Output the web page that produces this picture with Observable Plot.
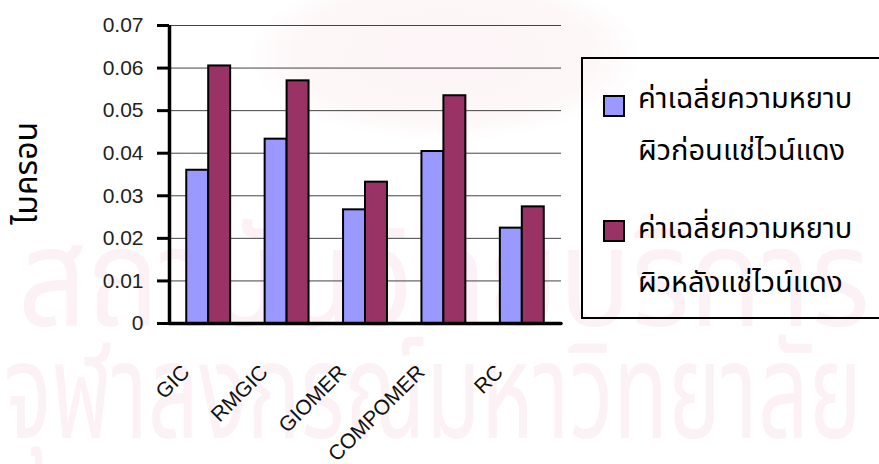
<!DOCTYPE html>
<html>
<head>
<meta charset="utf-8">
<script src="https://cdn.jsdelivr.net/npm/d3@7"></script>
<script src="https://cdn.jsdelivr.net/npm/@observablehq/plot@0.6"></script>
<style>
  html, body { margin: 0; padding: 0; background: #fff; overflow: hidden; }
  #wrap { position: relative; width: 879px; height: 464px; overflow: hidden; }
  .wm { position: absolute; white-space: nowrap; color: #fcf1f4; transform-origin: 0 0;
        font-family: "Noto Sans Thai", "Loma", "Garuda", "Noto Sans", sans-serif; line-height: 1; }
  #crest { position: absolute; left: 250px; top: -30px; width: 390px; height: 170px; border-radius: 50%;
           background: radial-gradient(ellipse at center, #fdf5f7 0%, #fdf7f8 55%, rgba(255,255,255,0) 72%); }
  #chart { position: absolute; left: 0; top: 0; }
  #legend { position: absolute; left: 581px; top: 57px; width: 320px; height: 258px;
            border: 2px solid #000; box-sizing: content-box;
            font-family: "Noto Sans Thai", "Loma", "Garuda", "Noto Sans", sans-serif; }
  .sw { position: absolute; left: 20px; width: 18px; height: 18px; border: 2px solid #000; }
  .lbl { position: absolute; left: 55px; font-size: 29px; line-height: 52px; white-space: nowrap; color: #000; }
</style>
</head>
<body>
<div id="wrap">
  <div id="crest"></div>
  <div class="wm" id="wm1">สถาบันวิทยบริการ</div>
  <div class="wm" id="wm2">จุฬาลงกรณ์มหาวิทยาลัย</div>
  <div id="chart"></div>
  <div id="legend"></div>
</div>
<script>
// Surface roughness (microns) of each restorative material, before and after red wine immersion
const categories = ["GIC", "RMGIC", "GIOMER", "COMPOMER", "RC"];
const beforeWine = [0.036, 0.0433, 0.0267, 0.0404, 0.0224];
const afterWine = [0.0605, 0.057, 0.0332, 0.0535, 0.0274];
const seriesNames = [
  ["ค่าเฉลี่ยความหยาบ", "ผิวก่อนแช่ไวน์แดง"],
  ["ค่าเฉลี่ยความหยาบ", "ผิวหลังแช่ไวน์แดง"]
];
const seriesColors = ["#9999ff", "#993366"];
const yTicks = [0, 0.01, 0.02, 0.03, 0.04, 0.05, 0.06, 0.07];
const yTitle = "ไมครอน";

// faint institutional watermark lines behind the chart: font size chosen so each line
// spans the given width, then stretched vertically
function placeWatermark(id, left, top, width, stretchY) {
  const el = document.getElementById(id);
  el.style.fontSize = "100px";
  const w = el.getBoundingClientRect().width;
  el.style.fontSize = (100 * width / w) + "px";
  el.style.left = left + "px";
  el.style.top = top + "px";
  el.style.transform = `scaleY(${stretchY})`;
}
placeWatermark("wm1", 18, 214, 852, 1.15);
placeWatermark("wm2", 4, 330, 858, 1.5);

const rows = categories.flatMap((cat, i) => [
  {cat, i, s: 0, value: beforeWine[i]},
  {cat, i, s: 1, value: afterWine[i]}
]);

// each category occupies one unit on x; the two bars fill the middle 56%
const gap = 0.22, barW = 0.28;
const labelFont = `"Liberation Sans", Arial, sans-serif`;

const chart = Plot.plot({
  width: 879,
  height: 464,
  marginLeft: 169,
  marginRight: 318,
  marginTop: 25,
  marginBottom: 141,
  style: {background: "transparent", fontFamily: labelFont, fontSize: "21px", color: "#000"},
  x: {domain: [0, categories.length], axis: null},
  y: {domain: [0, 0.07], axis: null},
  marks: [
    Plot.ruleY(yTicks.slice(1), {stroke: "#444", strokeWidth: 1}),
    Plot.rectY(rows, {
      x1: d => d.i + gap + d.s * barW,
      x2: d => d.i + gap + (d.s + 1) * barW,
      y: "value",
      fill: d => seriesColors[d.s],
      stroke: "#000",
      strokeWidth: 2
    }),
    Plot.axisY({
      ticks: yTicks,
      label: null,
      tickSize: 12,
      tickPadding: 14,
      strokeWidth: 3,
      tickFormat: d => d === 0 ? "0" : d.toFixed(2),
      fontSize: 21,
      fill: "#222"
    }),
    Plot.ruleX([0], {stroke: "#000", strokeWidth: 3.5}),
    Plot.ruleY([0], {stroke: "#000", strokeWidth: 3.5, strokeLinecap: "round"}),
    Plot.text(categories, {
      x: (d, i) => i + 0.5,
      frameAnchor: "bottom",
      text: d => d,
      rotate: -45,
      textAnchor: "end",
      dx: -18,
      dy: 50,
      fontSize: 21,
      fill: "#111"
    }),
    Plot.text([yTitle], {
      frameAnchor: "left",
      rotate: -90,
      dx: -143,
      dy: 50,
      fontSize: 32,
      fontFamily: `"Noto Sans Thai", "Loma", "Garuda", "Noto Sans", sans-serif`,
      fill: "#000"
    })
  ]
});
document.getElementById("chart").appendChild(chart);

// legend box on the right: one swatch per series, two lines of text each
const legend = document.getElementById("legend");
const swatchTops = [36, 161];
const lineTops = [[14, 66], [144, 198]];
seriesNames.forEach((lines, k) => {
  const sw = document.createElement("div");
  sw.className = "sw";
  sw.style.background = seriesColors[k];
  sw.style.top = swatchTops[k] + "px";
  legend.appendChild(sw);
  lines.forEach((t, j) => {
    const l = document.createElement("div");
    l.className = "lbl";
    l.style.top = lineTops[k][j] + "px";
    l.textContent = t;
    legend.appendChild(l);
  });
});
</script>
</body>
</html>
